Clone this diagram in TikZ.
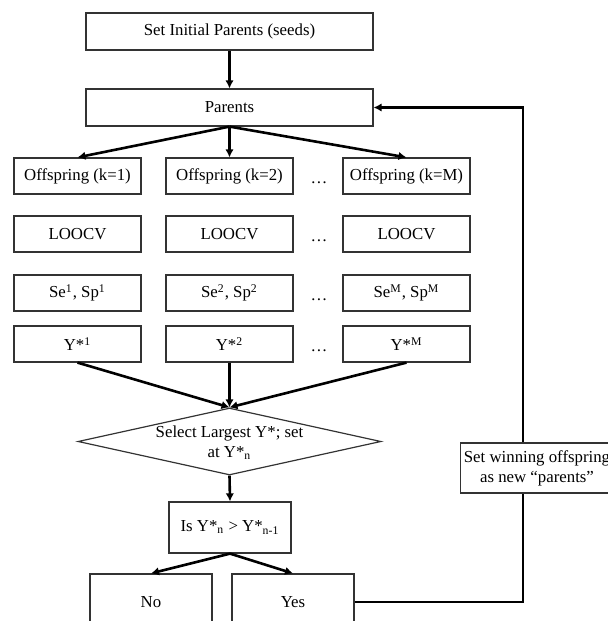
\documentclass[tikz,border=0pt]{standalone}
\usepackage{fontspec}
\setmainfont{Liberation Serif}
\usetikzlibrary{arrows.meta,shapes.geometric}

\begin{document}
\begin{tikzpicture}[x=0.5pt,y=-0.5pt,>={Latex[length=4pt,width=4.2pt]},
                    font=\fontsize{8.4}{10}\selectfont,
                    box/.style={draw=black!80,line width=0.6pt,minimum width=#1,minimum height=18pt,inner sep=1pt},
                    box/.default=63.5pt,
                    flow/.style={line width=1.3pt,->},
                    link/.style={line width=1.3pt}]
  \useasboundingbox (0,0) rectangle (608,621);
  % seeds and parents
  \node[box=143.5pt,minimum height=18.5pt] (init) at (229.5,31.5) {Set Initial Parents (seeds)};
  \node[box=143.5pt,minimum height=18.5pt] (par) at (229.5,107.5) {Parents};
  \draw[flow] (init)--(par);
  % one column per offspring
  \node[box] (off1) at (77.5,176) {Offspring (k=1)};
  \node[box] (off2) at (229.5,176) {Offspring (k=2)};
  \node[box] (offM) at (406.5,176) {Offspring (k=M)};
  \node[box] (loo1) at (77.5,234) {LOOCV};
  \node[box] (loo2) at (229.5,234) {LOOCV};
  \node[box] (looM) at (406.5,234) {LOOCV};
  \node[box] (ss1) at (77.5,293) {Se\textsuperscript{1}, Sp\textsuperscript{1}};
  \node[box] (ss2) at (229.5,293) {Se\textsuperscript{2}, Sp\textsuperscript{2}};
  \node[box] (ssM) at (406.5,293) {Se\textsuperscript{M}, Sp\textsuperscript{M}};
  \node[box] (ys1) at (77.5,344) {Y*\textsuperscript{1}};
  \node[box] (ys2) at (229.5,344) {Y*\textsuperscript{2}};
  \node[box] (ysM) at (406.5,344) {Y*\textsuperscript{M}};
  \node[anchor=base] (d1) at (319,183) {\ldots};
  \node[anchor=base] (d2) at (319,241) {\ldots};
  \node[anchor=base] (d3) at (319,300) {\ldots};
  \node[anchor=base] (d4) at (319,351) {\ldots};
  \draw[flow] (par.south)--(off1.north);
  \draw[flow] (par.south)--(off2.north);
  \draw[flow] (par.south)--(offM.north);
  % selection and test
  \node[diamond,draw=black!80,line width=0.6pt,minimum width=151.5pt,minimum height=33.5pt,inner sep=0pt] (sel) at (229.5,441.5) {};
  \node[align=center] (seltext) at (229.5,443) {Select Largest Y*; set\\ at Y*\textsubscript{n}};
  \draw[flow] (ys1.south)--(sel.north);
  \draw[flow] (ys2.south)--(sel.north);
  \draw[flow] (ysM.south)--(sel.north);
  \node[box=61pt,minimum height=25.5pt] (test) at (230,527.5) {Is Y*\textsubscript{n} > Y*\textsubscript{n-1}};
  \draw[flow] (sel.south)--(test.north);
  \node[box=61pt,minimum height=28pt] (no) at (151,602) {No};
  \node[box=61pt,minimum height=28pt] (yes) at (293,602) {Yes};
  \draw[flow] (test.south)--(no.north);
  \draw[flow] (test.south)--(yes.north);
  % feedback loop
  \node[draw=black!80,line width=0.6pt,align=center,inner sep=1.5pt,minimum height=25pt] (win) at (537,468) {Set winning offspring\\ as new ``parents''};
  \coordinate (rail) at (523,0);
  \draw[link] (yes.east) -| (rail |- win.south);
  \draw[flow] (rail |- win.north) |- (par.east);
\end{tikzpicture}
\end{document}
